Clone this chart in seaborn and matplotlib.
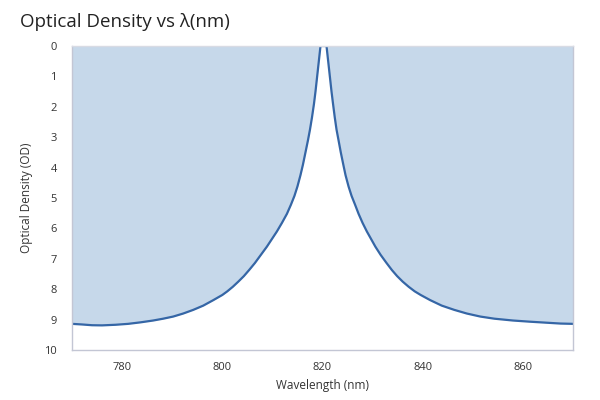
import numpy as np
import pandas as pd
import matplotlib
matplotlib.use('Agg')
import matplotlib.pyplot as plt
import seaborn as sns

# Values (wavelength in nm, optical density)
wavelength = [770.0, 772.0, 774.0, 776.0, 778.7, 781.2, 783.7, 786.2, 788.2,
              790.2, 792.2, 794.2, 796.2, 798.2, 800.0, 801.0, 802.1, 803.2,
              804.3, 805.4, 806.5, 807.7, 808.9, 809.9, 810.9, 811.9, 812.9,
              813.7, 814.4, 815.0, 815.6, 816.1, 816.6, 817.1, 817.5, 817.9,
              818.3, 818.6, 818.9, 819.2, 819.4, 819.6,
              820.8, 821.0, 821.2, 821.5, 821.8, 822.1, 822.45, 822.8, 823.2,
              823.65, 824.15, 824.6, 825.2, 825.8, 826.5, 827.2, 828.0,
              828.85, 829.7, 830.55, 831.6, 832.7, 833.85, 834.9, 836.0, 837.2,
              838.4, 839.6, 841.5, 843.8, 846.3, 848.8, 851.5, 854.3, 858.0,
              861.5, 864.5, 867.5, 870.0]
optical_density = [9.14, 9.16, 9.185, 9.19, 9.17, 9.14, 9.09, 9.03, 8.97,
                   8.90, 8.80, 8.68, 8.54, 8.36, 8.19, 8.07, 7.92, 7.75,
                   7.57, 7.36, 7.14, 6.87, 6.60, 6.35, 6.10, 5.82, 5.52,
                   5.22, 4.93, 4.62, 4.25, 3.90, 3.50, 3.10, 2.75, 2.35,
                   1.90, 1.50, 1.05, 0.60, 0.30, 0.0,
                   0.0, 0.30, 0.60, 1.05, 1.50, 1.90, 2.35, 2.75, 3.10,
                   3.50, 3.90, 4.25, 4.62, 4.93, 5.22, 5.52, 5.82,
                   6.10, 6.35, 6.60, 6.87, 7.12, 7.37, 7.57, 7.75, 7.92,
                   8.07, 8.19, 8.36, 8.54, 8.68, 8.80, 8.90, 8.97, 9.03,
                   9.07, 9.10, 9.13, 9.14]
x_ticks = [780, 800, 820, 840, 860]
y_ticks = list(range(0, 11))

df = pd.DataFrame({'wavelength': wavelength, 'od': optical_density})

sns.set_style('white')
plt.rcParams['font.family'] = ['Open Sans', 'DejaVu Sans']

fig, ax = plt.subplots(figsize=(6, 4), dpi=100)
fig.subplots_adjust(left=0.12, right=0.955, top=0.885, bottom=0.125)

ax.fill_between(df['wavelength'], 0, df['od'], color='#c6d8ea', linewidth=0)
sns.lineplot(data=df, x='wavelength', y='od', ax=ax, color='#3566a6',
             linewidth=1.6, estimator=None, sort=False)

ax.set_xlim(770, 870)
ax.set_ylim(10, 0)
ax.set_xticks(x_ticks)
ax.set_yticks(y_ticks)

grey = '#c3c6d4'
for side in ['left', 'bottom', 'right', 'top']:
    ax.spines[side].set_color(grey)
    ax.spines[side].set_linewidth(1.0)
ax.spines['top'].set_color('#d8dbe4')

ax.tick_params(axis='both', which='major', direction='out', length=5,
               width=1, color=grey, labelsize=8, labelcolor='#333333', pad=6)
ax.tick_params(axis='x', length=4, pad=5)

ax.set_xlabel('Wavelength (nm)', fontsize=8.5, color='#333333', labelpad=4)
ax.set_ylabel('Optical Density (OD)', fontsize=8.5, color='#333333', labelpad=8)

fig.text(0.033, 0.945, 'Optical Density vs λ(nm)', fontsize=13.5,
         color='#222222', ha='left', va='center')

fig.savefig('out.png', dpi=100)
